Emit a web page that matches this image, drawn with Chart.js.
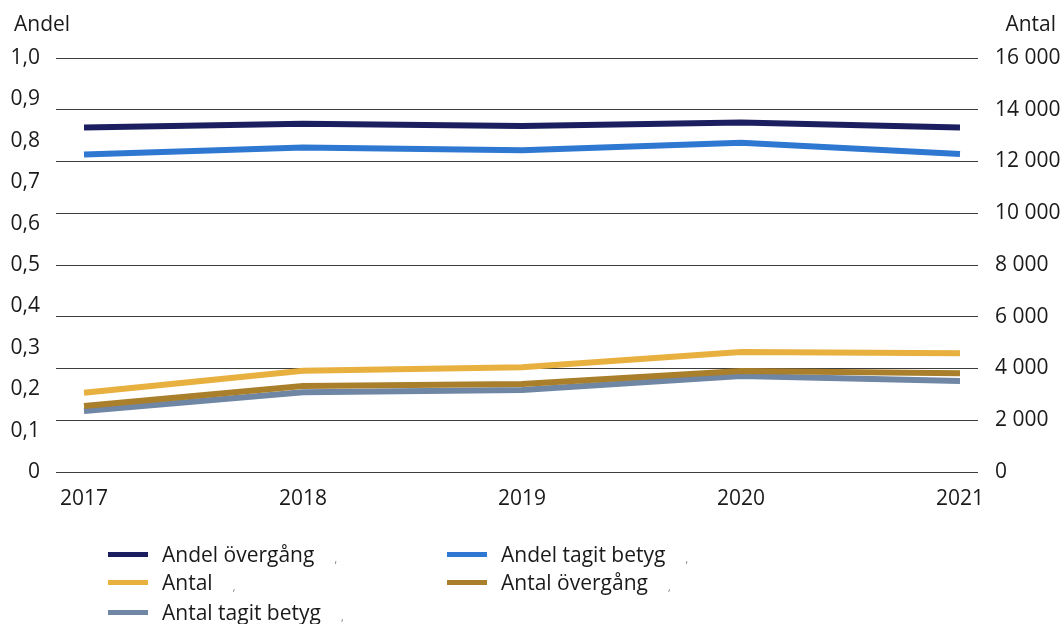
<!DOCTYPE html>
<html lang="sv">
<head>
<meta charset="utf-8">
<title>Andel och antal</title>
<script src="https://cdn.jsdelivr.net/npm/chart.js@4/dist/chart.umd.min.js"></script>
<style>
  html, body { margin: 0; padding: 0; background: #fff; }
  body { width: 1061px; height: 624px; position: relative; overflow: hidden;
         font-family: "Open Sans", Roboto, sans-serif; color: #1a1a1a; }
  #wrap { position: absolute; left: 0; top: 0; width: 1061px; height: 520px; }
  #legend { position: absolute; left: 0; top: 0; width: 1061px; height: 624px; pointer-events: none; }
  .item { position: absolute; display: flex; align-items: center; font-size: 21px; height: 28px; line-height: 28px; }
  .swatch { width: 40px; height: 5px; margin-right: 14px; }
  .mark { font-size: 10px; color: #777; margin-left: 20px; position: relative; top: 5px; }
</style>
</head>
<body>
<div id="wrap"><canvas id="c" width="1061" height="520"></canvas></div>
<div id="legend"></div>
<script>
// Years on the x axis
const years = [2017, 2018, 2019, 2020, 2021];

// Shares (left axis, 0–1)
const andelOvergang = [0.832, 0.841, 0.836, 0.844, 0.832];
const andelTagitBetyg = [0.767, 0.784, 0.777, 0.795, 0.768];

// Counts (right axis)
const antal = [3065, 3915, 4046, 4638, 4587];
const antalOvergang = [2551, 3324, 3401, 3903, 3814];
const antalTagitBetyg = [2357, 3080, 3169, 3710, 3517];

// Tick labels
const leftTickLabels = ['0', '0,1', '0,2', '0,3', '0,4', '0,5', '0,6', '0,7', '0,8', '0,9', '1,0'];
const rightTickLabels = ['0', '2 000', '4 000', '6 000', '8 000', '10 000', '12 000', '14 000', '16 000'];

const FONT = '"Open Sans", Roboto, sans-serif';
const SIZE = 21;
const TEXT = '#1a1a1a';

const series = [
  { label: 'Andel övergång', values: andelOvergang, color: '#1b1f5f', axis: 'yL' },
  { label: 'Andel tagit betyg', values: andelTagitBetyg, color: '#2f78d1', axis: 'yL' },
  { label: 'Antal', values: antal, color: '#e8b03f', axis: 'yR' },
  { label: 'Antal övergång', values: antalOvergang, color: '#a97f2b', axis: 'yR' },
  { label: 'Antal tagit betyg', values: antalTagitBetyg, color: '#6f86a4', axis: 'yR' }
];

// Corner titles for the two value axes
const axisTitles = {
  id: 'axisTitles',
  afterDraw(chart) {
    const ctx = chart.ctx;
    ctx.save();
    ctx.font = SIZE + 'px ' + FONT;
    ctx.fillStyle = TEXT;
    ctx.textBaseline = 'middle';
    ctx.textAlign = 'left';
    ctx.fillText('Andel', 14, 25);
    ctx.textAlign = 'right';
    ctx.fillText('Antal', 1056, 25);
    ctx.restore();
  }
};

const first = years[0], last = years[years.length - 1];
const tickFont = { size: SIZE, family: FONT };

new Chart(document.getElementById('c'), {
  type: 'line',
  data: {
    datasets: series.map(s => ({
      label: s.label,
      data: years.map((y, i) => ({ x: y, y: s.values[i] })),
      borderColor: s.color,
      backgroundColor: s.color,
      borderWidth: 6,
      pointRadius: 0,
      pointHoverRadius: 0,
      tension: 0,
      borderCapStyle: 'butt',
      yAxisID: s.axis
    }))
  },
  options: {
    responsive: false,
    animation: false,
    events: [],
    layout: { padding: { top: 58, left: 0, right: 0, bottom: 0 } },
    plugins: { legend: { display: false }, tooltip: { enabled: false } },
    scales: {
      x: {
        type: 'linear',
        min: first - 28 / 219,
        max: last + 18 / 219,
        grid: { display: false, drawTicks: false },
        border: { display: false },
        ticks: {
          stepSize: 1,
          includeBounds: false,
          padding: 14,
          maxRotation: 0,
          autoSkip: false,
          color: TEXT,
          font: tickFont,
          callback: v => String(v)
        },
        afterFit: s => { s.height = 48; }
      },
      yL: {
        position: 'left',
        min: 0, max: 1,
        grid: { display: false, drawTicks: false },
        border: { display: false },
        ticks: {
          stepSize: 0.1,
          padding: 16,
          color: TEXT,
          font: tickFont,
          callback: (v, i) => leftTickLabels[i]
        },
        afterFit: s => { s.width = 56; }
      },
      yR: {
        position: 'right',
        min: 0, max: 16000,
        grid: { color: '#3c3c3c', lineWidth: 1, drawTicks: false },
        border: { display: false },
        ticks: {
          stepSize: 2000,
          padding: 17,
          color: TEXT,
          font: tickFont,
          callback: (v, i) => rightTickLabels[i]
        },
        afterFit: s => { s.width = 83; }
      }
    }
  },
  plugins: [axisTitles]
});

// Legend below the chart, two columns
const legend = document.getElementById('legend');
const slots = [
  { left: 108, top: 540 }, { left: 447, top: 540 },
  { left: 108, top: 568 }, { left: 447, top: 568 },
  { left: 108, top: 598 }
];
series.forEach((s, i) => {
  const el = document.createElement('div');
  el.className = 'item';
  el.style.left = slots[i].left + 'px';
  el.style.top = slots[i].top + 'px';
  el.innerHTML = '<span class="swatch" style="background:' + s.color + '"></span>' +
                 '<span>' + s.label + '</span><span class="mark">,</span>';
  legend.appendChild(el);
});
</script>
</body>
</html>
